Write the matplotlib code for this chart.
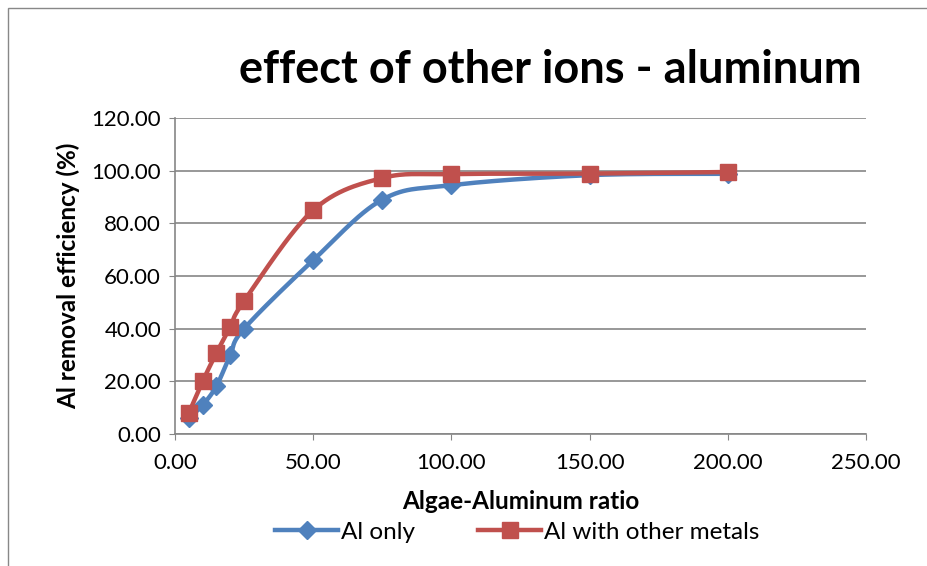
import numpy as np
import matplotlib.pyplot as plt
from matplotlib.patches import Rectangle

plt.rcParams['font.family'] = ['Lato', 'DejaVu Sans']

ratio = [5, 10, 15, 20, 25, 50, 75, 100, 150, 200]
al_only = [6.1, 11.0, 18.2, 30.0, 40.0, 66.0, 89.0, 94.5, 98.3, 98.8]
al_other = [8.0, 20.0, 30.8, 40.6, 50.5, 85.0, 97.2, 98.7, 98.9, 99.5]

blue = "#4F81BD"
red = "#C0504D"
grid = "#868686"


def smooth(x, y, steps=30):
    # catmull-rom curve through the points, like a spreadsheet "smoothed line"
    x = np.asarray(x, float)
    y = np.asarray(y, float)
    px = np.concatenate([[x[0]], x, [x[-1]]])
    py = np.concatenate([[y[0]], y, [y[-1]]])
    xs, ys = [], []
    t = np.linspace(0, 1, steps)
    for i in range(1, len(px) - 2):
        for p, out in ((px, xs), (py, ys)):
            p0, p1, p2, p3 = p[i - 1], p[i], p[i + 1], p[i + 2]
            b1 = p1 + (p2 - p0) / 6
            b2 = p2 - (p3 - p1) / 6
            out.extend((1 - t) ** 3 * p1 + 3 * (1 - t) ** 2 * t * b1
                       + 3 * (1 - t) * t ** 2 * b2 + t ** 3 * p2)
    return np.array(xs), np.array(ys)


fig = plt.figure(figsize=(9.27, 5.66), dpi=100)
fig.patches.append(Rectangle((8 / 927, -0.01), 1.1, 1 - 8 / 566 + 0.01,
                             transform=fig.transFigure, fill=False,
                             edgecolor="#888888", linewidth=1))

ax = fig.add_axes([175 / 927, 1 - 434 / 566, (866 - 175) / 927, (434 - 118) / 566])

sx, sy = smooth(ratio, al_only)
ax.plot(sx, sy, color=blue, linewidth=3.2, solid_capstyle="round", zorder=3)
ax.plot(ratio, al_only, linestyle="none", marker="D", markersize=9,
        color=blue, zorder=4)
sx, sy = smooth(ratio, al_other)
ax.plot(sx, sy, color=red, linewidth=3.2, solid_capstyle="round", zorder=5)
ax.plot(ratio, al_other, linestyle="none", marker="s", markersize=12,
        color=red, zorder=6)

ax.set_xlim(0, 250)
ax.set_ylim(0, 120)
ax.set_xticks(np.arange(0, 251, 50))
ax.set_yticks(np.arange(0, 121, 20))
ax.xaxis.set_major_formatter(lambda v, p: f"{v:.2f}")
ax.yaxis.set_major_formatter(lambda v, p: f"{v:.2f}")
ax.tick_params(labelsize=16, length=4, color=grid, direction="out")
ax.tick_params(axis="x", pad=10)
ax.tick_params(axis="y", pad=6)
ax.yaxis.grid(True, color=grid, linewidth=1.2)
ax.set_axisbelow(True)
for s in ("top", "right"):
    ax.spines[s].set_visible(False)
for s in ("left", "bottom"):
    ax.spines[s].set_color(grid)
    ax.spines[s].set_linewidth(1.2)

ax.set_xlabel("Algae-Aluminum ratio", fontsize=17.5, fontweight="bold", labelpad=12)
ax.set_ylabel("Al removal efficiency (%)", fontsize=17.5, fontweight="bold", labelpad=8)

fig.text(550 / 927, 1 - 70 / 566, "effect of other ions - aluminum",
         fontsize=32.5, fontweight="bold", ha="center", va="center")

h1, = ax.plot([], [], color=blue, linewidth=3.2, marker="D", markersize=9)
h2, = ax.plot([], [], color=red, linewidth=3.2, marker="s", markersize=12)
fig.legend([h1, h2], ["Al only", "Al with other metals"], ncol=2,
           loc="center", bbox_to_anchor=(517 / 927, 1 - 532 / 566),
           frameon=False, fontsize=17.5, handlelength=2.6, handletextpad=0.1,
           columnspacing=2.6, borderpad=0)

fig.savefig("out.png", dpi=100)
